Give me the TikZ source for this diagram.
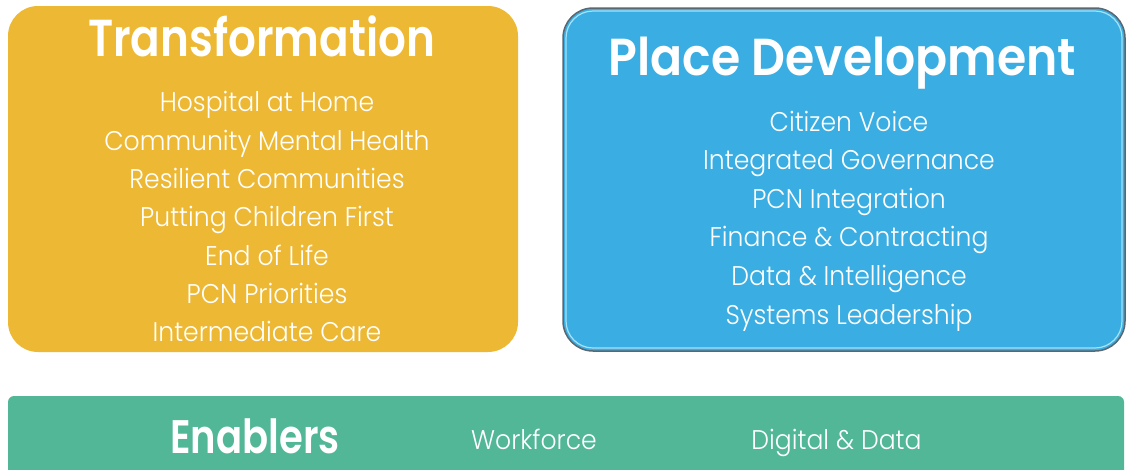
\documentclass[tikz,border=0pt]{standalone}
\usepackage{fontspec}
\setmainfont{Poppins}[UprightFont={* Light},BoldFont={* SemiBold}]
\definecolor{orng}{HTML}{EDB834}
\definecolor{blu}{HTML}{3AAEE2}
\definecolor{grn}{HTML}{51B797}
\definecolor{rim}{HTML}{5A6670}
\newcommand{\sty}[3]{\fontsize{#1}{#1}\selectfont#2\addfontfeature{FakeStretch=#3}}
\begin{document}
\begin{tikzpicture}[x=1pt,y=-1pt,
  lbl/.style={text=white,inner sep=0pt,anchor=base},
  item/.style={lbl,font=\sty{27}{}{0.93}}]
\useasboundingbox (0,0) rectangle (1126,469);
\path[fill=orng,rounded corners=30pt] (8,6) rectangle (518,352);
\path[fill=blu,draw=rim,line width=1.5pt,rounded corners=30pt] (563,8) rectangle (1125,351);
\path[draw=cyan!35,line width=1.2pt,rounded corners=27pt] (566,11) rectangle (1122,348);
\path[fill=grn,rounded corners=6pt] (8,396) rectangle (1124,490);
\node[lbl,font=\sty{52}{\bfseries}{0.84}] (tt) at (261.5,56) {Transformation};
\foreach \t [count=\i] in {Hospital at Home,Community Mental Health,Resilient Communities,Putting Children First,End of Life,PCN Priorities,Intermediate Care}
  \node[item] (t\i) at (267,111.7+38.33*\i-38.33) {\t};
\node[lbl,font=\sty{52}{\bfseries}{0.91}] (pt) at (842.5,75) {Place Development};
\foreach \t [count=\i] in {Citizen Voice,Integrated Governance,PCN Integration,Finance \& Contracting,Data \& Intelligence,Systems Leadership}
  \node[item] (p\i) at (849,131+38.6*\i-38.6) {\t};
\node[lbl,font=\sty{47}{\bfseries}{0.82}] (en) at (255,453) {Enablers};
\node[item] (wf) at (534,449) {Workforce};
\node[item] (dd) at (836.5,449) {Digital \& Data};
\end{tikzpicture}
\end{document}
